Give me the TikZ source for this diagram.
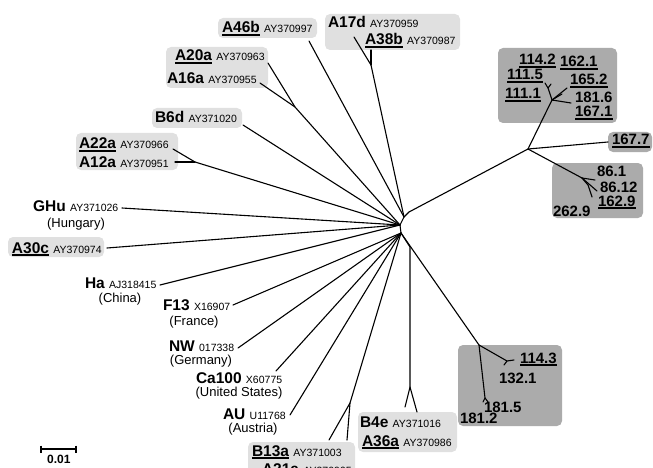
\documentclass[tikz,border=0pt]{standalone}
\usepackage{fontspec}
\setmainfont{Liberation Sans}
\definecolor{lightbox}{RGB}{224,224,224}
\definecolor{darkbox}{RGB}{171,171,171}
\newcommand\ulx[1]{\vtop{\hbox{#1}\kern1.3pt\hrule height 1.5pt}}
\newcommand\ac[1]{{\fontsize{10.5}{12}\selectfont\mdseries #1}}
\tikzset{
  branch/.style={line width=1.1pt, line join=round, line cap=round},
  lbox/.style={fill=lightbox, rounded corners=5pt},
  dbox/.style={fill=darkbox, rounded corners=5pt},
  lab/.style={anchor=base west, inner sep=0pt, outer sep=0pt, font=\fontsize{15.5}{17}\selectfont\bfseries},
  ctry/.style={anchor=base, inner sep=0pt, outer sep=0pt, font=\fontsize{13}{15}\selectfont},
  num/.style={anchor=base west, inner sep=0pt, outer sep=0pt, font=\fontsize{15}{17}\selectfont\bfseries},
}
\begin{document}
\begin{tikzpicture}[x=1pt,y=-1pt]
\useasboundingbox (0,0) rectangle (653,468);
\clip (0,0) rectangle (653,468);
% ---- boxes
\fill[lbox] (218,18) rectangle (317,38);
\fill[lbox] (325,14) rectangle (460,50);
\fill[lbox] (166,47) rectangle (268,88);
\fill[lbox] (152,108) rectangle (242,128);
\fill[lbox] (76,133) rectangle (178,170);
\fill[lbox] (8,237) rectangle (104,257);
\fill[lbox] (248,442) rectangle (355,480);
\fill[lbox] (358,412) rectangle (457,452);
\fill[dbox] (498,48) rectangle (617,123);
\fill[dbox] (608,132) rectangle (652,152);
\fill[dbox] (552,163) rectangle (643,218);
\fill[dbox] (458,345) rectangle (562,426);
% ---- internal nodes
\coordinate (hR) at (409,212);
\coordinate (hU) at (404,217);
\coordinate (hL) at (400,225);
\coordinate (hD) at (401,233);
\coordinate (nR) at (528,149);
\coordinate (nU) at (552,100);
\coordinate (nL) at (582,178);
\coordinate (nB) at (479,345);
% ---- leaf ends
\coordinate (lA17d) at (354,37);
\coordinate (lA38b) at (371,50);
\coordinate (fA17) at (371,65);
\coordinate (lA46b) at (309,41);
\coordinate (lA20a) at (268,63);
\coordinate (lA16a) at (260,83);
\coordinate (fA20) at (295,107);
\coordinate (lB6d) at (243,125);
\coordinate (lA22a) at (173,149);
\coordinate (lA12a) at (175,162);
\coordinate (fA22) at (195,162);
\coordinate (lGHu) at (122,208);
\coordinate (lA30c) at (107,248);
\coordinate (lHa) at (160,285);
\coordinate (lF13) at (233,305);
\coordinate (lNW) at (238,348);
\coordinate (lCa) at (276,371);
\coordinate (lAU) at (290,415);
\coordinate (lB13a) at (329,440);
\coordinate (lA21a) at (347,440);
\coordinate (fB13) at (350,403);
\coordinate (lB4e) at (405,407);
\coordinate (lA36a) at (417,412);
\coordinate (fB4) at (410,387);
\coordinate (kB4) at (410,247);
\coordinate (f1143) at (507,361);
\coordinate (l1143) at (514,360);
\coordinate (t1143) at (504,365);
\coordinate (l1815) at (485,398);
\coordinate (t1815a) at (483,402);
\coordinate (t1815b) at (488,402);
\coordinate (l1677) at (608,142);
\coordinate (u1) at (548,88);
\coordinate (u1a) at (545,83);
\coordinate (u1b) at (551,84);
\coordinate (u2) at (567,88);
\coordinate (u3) at (571,103);
\coordinate (u4) at (562,94);
\coordinate (d1) at (595,180);
\coordinate (d2) at (597,191);
\coordinate (d3a) at (588,185);
\coordinate (d3) at (592,197);
% ---- branches
\draw[branch] (hR) -- (hU) -- (hL) -- (hD);
\draw[branch] (hR) -- (nR);
\draw[branch] (nR) -- (nU);
\draw[branch] (nR) -- (l1677);
\draw[branch] (nR) -- (nL);
\draw[branch] (nU) -- (u1) -- (u1a);
\draw[branch] (u1) -- (u1b);
\draw[branch] (nU) -- (u2);
\draw[branch] (nU) -- (u3);
\draw[branch] (nU) -- (u4);
\draw[branch] (nL) -- (d1);
\draw[branch] (nL) -- (d2);
\draw[branch] (nL) -- (d3a) -- (d3);
\draw[branch] (lA17d) -- (fA17) -- (hU);
\draw[branch] (lA38b) -- (fA17);
\draw[branch] (lA46b) -- (hU);
\draw[branch] (lA20a) -- (fA20) -- (hL);
\draw[branch] (lA16a) -- (fA20);
\draw[branch] (lB6d) -- (hL);
\draw[branch] (lA22a) -- (fA22) -- (hL);
\draw[branch] (lA12a) -- (fA22);
\draw[branch] (lGHu) -- (hL);
\draw[branch] (lA30c) -- (hL);
\draw[branch] (lHa) -- (hL);
\draw[branch] (lF13) -- (hD);
\draw[branch] (lNW) -- (hD);
\draw[branch] (lCa) -- (hD);
\draw[branch] (lAU) -- (hD);
\draw[branch] (lB13a) -- (fB13) -- (hD);
\draw[branch] (lA21a) -- (fB13);
\draw[branch] (hD) -- (kB4) -- (fB4) -- (lB4e);
\draw[branch] (fB4) -- (lA36a);
\draw[branch] (hD) -- (nB);
\draw[branch] (nB) -- (f1143) -- (l1143);
\draw[branch] (f1143) -- (t1143);
\draw[branch] (nB) -- (l1815) -- (t1815a);
\draw[branch] (l1815) -- (t1815b);
% ---- labels
\node[lab] (tA46b) at (222,33) {\ulx{A46b} \ac{AY370997}};
\node[lab] (tA17d) at (328,28) {A17d \ac{AY370959}};
\node[lab] (tA38b) at (365,45) {\ulx{A38b} \ac{AY370987}};
\node[lab] (tA20a) at (175,61) {\ulx{A20a} \ac{AY370963}};
\node[lab] (tA16a) at (167,84) {A16a \ac{AY370955}};
\node[lab] (tB6d) at (155,123) {B6d \ac{AY371020}};
\node[lab] (tA22a) at (79,149) {\ulx{A22a} \ac{AY370966}};
\node[lab] (tA12a) at (79,167) {A12a \ac{AY370951}};
\node[lab] (tGHu) at (33,211) {GHu \ac{AY371026}};
\node[ctry] (cGHu) at (76,227) {(Hungary)};
\node[lab] (tA30c) at (12,253) {\ulx{A30c} \ac{AY370974}};
\node[lab] (tHa) at (85,288) {Ha \ac{AJ318415}};
\node[ctry] (cHa) at (120,302) {(China)};
\node[lab] (tF13) at (163,310) {F13 \ac{X16907}};
\node[ctry] (cF13) at (194,325) {(France)};
\node[lab] (tNW) at (169,351) {NW \ac{017338}};
\node[ctry] (cNW) at (201,364) {(Germany)};
\node[lab] (tCa) at (196,383) {Ca100 \ac{X60775}};
\node[ctry] (cCa) at (239,396.5) {(United States)};
\node[lab] (tAU) at (223,419.5) {AU \ac{U11768}};
\node[ctry] (cAU) at (253,432) {(Austria)};
\node[lab] (tB13a) at (252,456) {\ulx{B13a} \ac{AY371003}};
\node[lab] (tA21a) at (262,474) {A21a \ac{AY370965}};
\node[lab] (tB4e) at (360,427) {B4e \ac{AY371016}};
\node[lab] (tA36a) at (362,446) {\ulx{A36a} \ac{AY370986}};
% numbers
\node[num] (n1142) at (519,65) {\ulx{114.2}};
\node[num] (n1621) at (560,67) {\ulx{162.1}};
\node[num] (n1115) at (507,80) {\ulx{111.5}};
\node[num] (n1652) at (570,85) {\ulx{165.2}};
\node[num] (n1111) at (505,99) {\ulx{111.1}};
\node[num] (n1816) at (575,103) {181.6};
\node[num] (n1671) at (575,117) {\ulx{167.1}};
\node[num] (n1677) at (612,145) {\ulx{167.7}};
\node[num] (n861) at (597,176) {86.1};
\node[num] (n8612) at (600,192.5) {86.12};
\node[num] (n1629) at (598,206) {\ulx{162.9}};
\node[num] (n2629) at (553,216) {262.9};
\node[num] (n1143) at (520,363) {\ulx{114.3}};
\node[num] (n1321) at (499,383) {132.1};
\node[num] (n1815) at (484,412) {181.5};
\node[num] (n1812) at (460,423) {181.2};
% scale bar
\coordinate (sb1) at (41,449);
\coordinate (sb2) at (76,449);
\draw[line width=1.1pt] (sb1) -- (sb2);
\draw[line width=1.1pt] (41,445.5) -- (41,453);
\draw[line width=1.1pt] (76,445.5) -- (76,453);
\node[anchor=base west, inner sep=0pt, font=\fontsize{12}{14}\selectfont\bfseries] (sbt) at (47,463) {0.01};
\end{tikzpicture}
\end{document}
